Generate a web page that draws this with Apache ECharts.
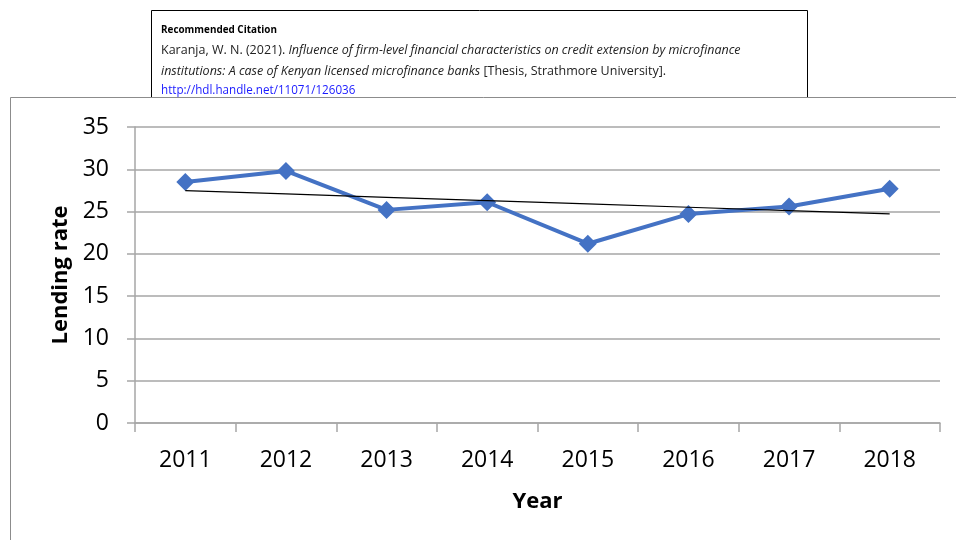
<!DOCTYPE html>
<html>
<head>
<meta charset="utf-8">
<script src="https://cdn.jsdelivr.net/npm/echarts@6/dist/echarts.min.js"></script>
<style>
  html, body { margin: 0; padding: 0; background: #fff; }
  #chart { width: 956px; height: 540px; }
</style>
</head>
<body>
<div id="chart"></div>
<script>
// Average lending rate by year
const years = ['2011', '2012', '2013', '2014', '2015', '2016', '2017', '2018'];
const lendingRate = [28.5, 29.8, 25.2, 26.1, 21.2, 24.7, 25.6, 27.7];
const yTicks = { min: 0, max: 35, interval: 5 };

// Least-squares linear trend over the year index
function linearTrend(values) {
  const n = values.length;
  const xs = values.map((_, i) => i + 1);
  const mx = xs.reduce((a, b) => a + b, 0) / n;
  const my = values.reduce((a, b) => a + b, 0) / n;
  let sxy = 0, sxx = 0;
  for (let i = 0; i < n; i++) {
    sxy += (xs[i] - mx) * (values[i] - my);
    sxx += (xs[i] - mx) * (xs[i] - mx);
  }
  const slope = sxy / sxx;
  return xs.map(x => +(my + slope * (x - mx)).toFixed(4));
}
const trend = linearTrend(lendingRate);

const chart = echarts.init(document.getElementById('chart'), null, { renderer: 'canvas' });

const gray = '#a6a6a6';
const font = '"Open Sans", "Noto Sans", sans-serif';

chart.setOption({
  animation: false,
  backgroundColor: '#fff',
  graphic: [
    // citation box
    {
      type: 'rect', z: 1,
      shape: { x: 151.5, y: 10.5, width: 656, height: 110 },
      style: { fill: '#fff', stroke: '#000', lineWidth: 1 }
    },
    {
      type: 'text', z: 2, left: 161, top: 24,
      style: {
        text: 'Recommended Citation', fill: '#000',
        font: 'bold 11px ' + font
      },
      scaleX: 0.9
    },
    {
      type: 'text', z: 2, left: 161, top: 44,
      style: {
        text: '{n|Karanja, W. N. (2021). }{i|Influence of firm-level financial characteristics on credit extension by microfinance}',
        rich: {
          n: { font: '12.5px ' + font, fill: '#222' },
          i: { font: 'italic 12.5px ' + font, fill: '#222' }
        }
      },
      scaleX: 1.0
    },
    {
      type: 'text', z: 2, left: 161, top: 65,
      style: {
        text: '{i|institutions: A case of Kenyan licensed microfinance banks}{n| [Thesis, Strathmore University].}',
        rich: {
          n: { font: '12.5px ' + font, fill: '#222' },
          i: { font: 'italic 12.5px ' + font, fill: '#222' }
        }
      },
      scaleX: 1.0
    },
    {
      type: 'text', z: 2, left: 161, top: 85,
      style: {
        text: 'http://hdl.handle.net/11071/126036', fill: '#1a1aff',
        font: '12px ' + font
      },
      scaleX: 0.97
    },
    // chart panel
    {
      type: 'rect', z: 3,
      shape: { x: 10.5, y: 97.5, width: 960, height: 460 },
      style: { fill: '#fff', stroke: '#8c8c8c', lineWidth: 1 }
    }
  ],
  grid: { left: 135, right: 16, top: 127, bottom: 117, containLabel: false, z: 5 },
  xAxis: {
    type: 'category',
    data: years,
    boundaryGap: true,
    z: 5,
    axisLine: { lineStyle: { color: gray, width: 1.5 } },
    axisTick: { show: true, length: 9, lineStyle: { color: gray, width: 1.5 } },
    axisLabel: { color: '#000', fontSize: 23, fontFamily: font, margin: 26 },
    name: 'Year',
    nameLocation: 'middle',
    nameGap: 68,
    nameTextStyle: { color: '#000', fontSize: 22, fontWeight: 'bold', fontFamily: font }
  },
  yAxis: {
    type: 'value',
    min: yTicks.min, max: yTicks.max, interval: yTicks.interval,
    z: 5,
    axisLine: { show: true, lineStyle: { color: gray, width: 1.5 } },
    axisTick: { show: true, length: 8, lineStyle: { color: gray, width: 1.5 } },
    splitLine: { show: true, lineStyle: { color: gray, width: 1.5 } },
    axisLabel: { color: '#000', fontSize: 23, fontFamily: font, margin: 26 },
    name: 'Lending rate',
    nameLocation: 'middle',
    nameGap: 60,
    nameRotate: 90,
    nameTextStyle: { color: '#000', fontSize: 22, fontWeight: 'bold', fontFamily: font }
  },
  series: [
    {
      name: 'Lending rate',
      type: 'line',
      data: lendingRate,
      z: 6,
      symbol: 'diamond',
      symbolSize: 18,
      lineStyle: { color: '#4472C4', width: 4 },
      itemStyle: { color: '#4472C4' }
    },
    {
      name: 'Linear trend',
      type: 'line',
      data: trend,
      z: 7,
      symbol: 'none',
      lineStyle: { color: '#000', width: 1.2 }
    }
  ]
});
</script>
</body>
</html>
